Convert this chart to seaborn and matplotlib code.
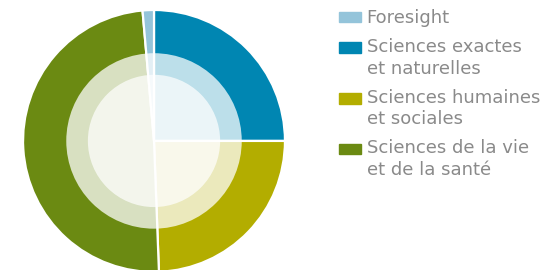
import matplotlib
matplotlib.use("Agg")
import matplotlib.pyplot as plt
import matplotlib.patches as mpatches
from matplotlib.legend_handler import HandlerPatch
import seaborn as sns

# === Data ===
labels = ["Foresight", "Sciences exactes\net naturelles",
          "Sciences humaines\net sociales", "Sciences de la vie\net de la santé"]
shares = [1.4, 25.0, 24.4, 49.2]
colors = ["#94c4da", "#0086b2", "#b3ad00", "#6b8a12"]

# pie drawn clockwise from 12 o'clock: exactes, humaines, vie, foresight
pie_order = [1, 2, 3, 0]

# === Settings ===
sns.set_theme(style="white")
plt.rcParams['font.family'] = ['DejaVu Sans']

fig = plt.figure(figsize=(5.44, 2.70), dpi=100)
ax = fig.add_axes([0.0423, -0.007, 0.4816, 0.970])

ax.pie([shares[i] for i in pie_order],
       colors=[colors[i] for i in pie_order],
       startangle=90, counterclock=False, radius=1.0,
       wedgeprops=dict(edgecolor="white", linewidth=1.6))

# lighter rings: white veils on top of the wedges
ax.add_patch(mpatches.Circle((0, 0), 0.67, color="white", alpha=0.74, lw=0, zorder=5))
ax.add_patch(mpatches.Circle((0, 0), 0.505, color="white", alpha=0.71, lw=0, zorder=6))

ax.set_xlim(-1, 1)
ax.set_ylim(-1, 1)
ax.set_aspect("equal")
ax.axis("off")

# === Legend ===
handles = [mpatches.Patch(color=c) for c in colors]
two_line = {id(h) for h, lab in zip(handles, labels) if "\n" in lab}


def first_line_patch(legend, orig_handle, xdescent, ydescent, width, height, fontsize):
    # put the colour swatch next to the first text line
    shift = 0.6 * fontsize if id(orig_handle) in two_line else 0
    return mpatches.Rectangle((-xdescent, -ydescent + shift), width, height)


leg = fig.legend(handles, labels, loc="upper left", bbox_to_anchor=(0.609, 0.992),
                 frameon=False, fontsize=13, handlelength=1.22, handleheight=0.55,
                 handletextpad=0.33, labelspacing=0.61, borderaxespad=0.0,
                 handler_map={mpatches.Patch: HandlerPatch(patch_func=first_line_patch)})
for t in leg.get_texts():
    t.set_color("#8a8a8a")
    t.set_linespacing(1.25)

fig.savefig("out.png", dpi=100)
